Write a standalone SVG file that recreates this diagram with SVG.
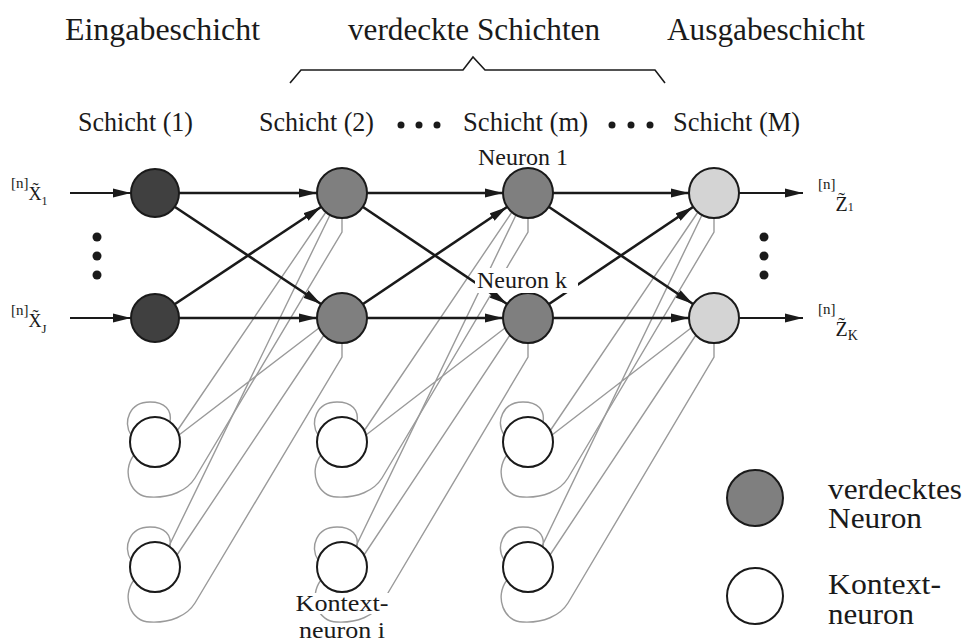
<svg xmlns="http://www.w3.org/2000/svg" width="965" height="644" viewBox="0 0 965 644">
<style>
.t{font-family:"Liberation Serif","Times New Roman",serif;fill:#1a1a1a}
.g{fill:none;stroke:#9a9a9a;stroke-width:1.4}
.b{stroke:#1a1a1a;stroke-width:2.6;fill:none}
.a{stroke:#1a1a1a;stroke-width:2;fill:none}
.n{stroke:#1a1a1a;stroke-width:2}
.in{fill:#404040}
.hid{fill:#7f7f7f}
.out{fill:#d4d4d4}
.ctx{fill:#ffffff}
.dot{fill:#1a1a1a}
</style>
<defs>
<marker id="ah" markerUnits="userSpaceOnUse" markerWidth="18" markerHeight="10" refX="18" refY="4.5" orient="auto" viewBox="0 0 18 9">
<path d="M0,0 L18,4.5 L0,9 Z" fill="#1a1a1a"/>
</marker>
</defs>
<rect width="965" height="644" fill="#ffffff"/>

<g id="titles">
<text class="t" x="65" y="40" font-size="32" textLength="195" lengthAdjust="spacingAndGlyphs">Eingabeschicht</text>
<text class="t" x="348" y="40" font-size="32" textLength="252" lengthAdjust="spacingAndGlyphs">verdeckte Schichten</text>
<text class="t" x="667" y="40" font-size="32" textLength="198" lengthAdjust="spacingAndGlyphs">Ausgabeschicht</text>
<path d="M290,83 L301,70 L463,70 L473,57 L485,70 L655,70 L665,83" fill="none" stroke="#1a1a1a" stroke-width="1.6"/>
</g>

<g id="layer-labels">
<text class="t" x="78" y="131" font-size="26.5" textLength="115" lengthAdjust="spacingAndGlyphs">Schicht (1)</text>
<text class="t" x="259" y="131" font-size="26.5" textLength="115" lengthAdjust="spacingAndGlyphs">Schicht (2)</text>
<text class="t" x="463" y="131" font-size="26.5" textLength="125" lengthAdjust="spacingAndGlyphs">Schicht (m)</text>
<text class="t" x="673" y="131" font-size="26.5" textLength="127" lengthAdjust="spacingAndGlyphs">Schicht (M)</text>
<circle class="dot" cx="401" cy="125" r="3.5"/>
<circle class="dot" cx="419" cy="125" r="3.5"/>
<circle class="dot" cx="437" cy="125" r="3.5"/>
<circle class="dot" cx="612" cy="125" r="3.5"/>
<circle class="dot" cx="631" cy="125" r="3.5"/>
<circle class="dot" cx="650" cy="125" r="3.5"/>
</g>

<g id="connectors">
<g id="context-links">
<path class="g" d="M177,431 L326,212 M179,435 L319,328 M169,546 L330,215 M177,555 L324,335"/>
<path class="g" d="M342,218 L342,232 L195,478 C187,491 170,498 150,497 C131,497 121,472 134,455"/>
<path class="g" d="M342,343 L342,357 L195,603 C187,616 170,623 150,622 C131,622 121,597 134,580"/>
<path class="g" d="M131,435 C123,422 129,402 150,402 C165,402 172,410 170,422"/>
<path class="g" d="M131,560 C123,547 129,527 150,527 C165,527 172,535 170,547"/>

<path class="g" d="M364,431 L512,212 M366,435 L505,328 M356,546 L516,215 M364,555 L510,335"/>
<path class="g" d="M528,218 L528,232 L382,478 C374,491 357,498 337,497 C318,497 308,472 321,455"/>
<path class="g" d="M528,343 L528,357 L382,603 C374,616 357,623 337,622 C318,622 308,597 321,580"/>
<path class="g" d="M318,435 C310,422 316,402 337,402 C352,402 359,410 357,422"/>
<path class="g" d="M318,560 C310,547 316,527 337,527 C352,527 359,535 357,547"/>

<path class="g" d="M550,431 L698,212 M552,435 L691,328 M542,546 L702,215 M550,555 L696,335"/>
<path class="g" d="M714,218 L714,232 L568,478 C560,491 543,498 523,497 C504,497 494,472 507,455"/>
<path class="g" d="M714,343 L714,357 L568,603 C560,616 543,623 523,622 C504,622 494,597 507,580"/>
<path class="g" d="M504,435 C496,422 502,402 523,402 C538,402 545,410 543,422"/>
<path class="g" d="M504,560 C496,547 502,527 523,527 C538,527 545,535 543,547"/>
</g>
<g id="forward-links">
<path class="a" d="M70,193 L131,193" marker-end="url(#ah)"/>
<path class="a" d="M70,318 L131,318" marker-end="url(#ah)"/>
<path class="b" d="M179,193 L317,193" marker-end="url(#ah)"/>
<path class="b" d="M179,318 L317,318" marker-end="url(#ah)"/>
<path class="b" d="M175,207 L321,304" marker-end="url(#ah)"/>
<path class="b" d="M175,304 L321,207" marker-end="url(#ah)"/>
<path class="b" d="M367,193 L503,193" marker-end="url(#ah)"/>
<path class="b" d="M367,318 L503,318" marker-end="url(#ah)"/>
<path class="b" d="M363,207 L507,304" marker-end="url(#ah)"/>
<path class="b" d="M363,304 L507,207" marker-end="url(#ah)"/>
<path class="b" d="M553,193 L689,193" marker-end="url(#ah)"/>
<path class="b" d="M553,318 L689,318" marker-end="url(#ah)"/>
<path class="b" d="M549,207 L693,304" marker-end="url(#ah)"/>
<path class="b" d="M549,304 L693,207" marker-end="url(#ah)"/>
<path class="a" d="M739,193 L803,193" marker-end="url(#ah)"/>
<path class="a" d="M739,318 L803,318" marker-end="url(#ah)"/>
</g>
</g>

<g id="input-layer">
<circle class="n in" cx="155" cy="193" r="24"/>
<circle class="n in" cx="155" cy="318" r="24"/>
</g>
<g id="hidden-layer-2">
<circle class="n hid" cx="342" cy="193" r="25"/>
<circle class="n hid" cx="342" cy="318" r="25"/>
</g>
<g id="hidden-layer-m">
<circle class="n hid" cx="528" cy="193" r="25"/>
<circle class="n hid" cx="528" cy="318" r="25"/>
</g>
<g id="output-layer">
<circle class="n out" cx="714" cy="193" r="25"/>
<circle class="n out" cx="714" cy="318" r="25"/>
</g>
<g id="context-1">
<circle class="n ctx" cx="155" cy="442" r="25"/>
<circle class="n ctx" cx="155" cy="567" r="25"/>
</g>
<g id="context-2">
<circle class="n ctx" cx="342" cy="442" r="25"/>
<circle class="n ctx" cx="342" cy="567" r="25"/>
</g>
<g id="context-m">
<circle class="n ctx" cx="528" cy="442" r="25"/>
<circle class="n ctx" cx="528" cy="567" r="25"/>
</g>

<g id="io-labels">
<text class="t" x="11" y="200" font-size="18"><tspan font-size="15" dy="-12">[n]</tspan><tspan dy="12">X&#x303;</tspan><tspan font-size="12" dy="5">1</tspan></text>
<text class="t" x="11" y="327" font-size="18"><tspan font-size="15" dy="-12">[n]</tspan><tspan dy="12">X&#x303;</tspan><tspan font-size="13" dy="6">J</tspan></text>
<circle class="dot" cx="97" cy="237" r="4.5"/>
<circle class="dot" cx="97" cy="256" r="4.5"/>
<circle class="dot" cx="97" cy="275" r="4.5"/>

<text class="t" x="818" y="211" font-size="20"><tspan font-size="15" dy="-22">[n]</tspan><tspan dy="22">Z&#x303;</tspan><tspan font-size="12" dy="0">1</tspan></text>
<text class="t" x="818" y="336" font-size="20"><tspan font-size="15" dy="-22">[n]</tspan><tspan dy="22">Z&#x303;</tspan><tspan font-size="14" dy="4">K</tspan></text>
<circle class="dot" cx="764" cy="237" r="4.5"/>
<circle class="dot" cx="764" cy="256" r="4.5"/>
<circle class="dot" cx="764" cy="275" r="4.5"/>
</g>

<g id="neuron-labels">
<text class="t" x="478" y="165" font-size="24">Neuron 1</text>
<rect x="475" y="268" width="103" height="25" fill="#ffffff"/>
<text class="t" x="477" y="288" font-size="24">Neuron k</text>
<rect x="293" y="593" width="98" height="21" fill="#ffffff"/>
<text class="t" x="342" y="611" font-size="24" textLength="93" lengthAdjust="spacingAndGlyphs" text-anchor="middle">Kontext-</text>
<rect x="297" y="623" width="90" height="21" fill="#ffffff"/>
<text class="t" x="342" y="638" font-size="24" textLength="86" lengthAdjust="spacingAndGlyphs" text-anchor="middle">neuron i</text>
</g>

<g id="legend">
<circle class="n hid" cx="755" cy="498" r="28"/>
<circle class="n ctx" cx="755" cy="596" r="28"/>
<text class="t" x="828" y="499" font-size="29" textLength="134" lengthAdjust="spacingAndGlyphs">verdecktes</text>
<text class="t" x="828" y="528" font-size="29" textLength="94" lengthAdjust="spacingAndGlyphs">Neuron</text>
<text class="t" x="828" y="594" font-size="29" textLength="113" lengthAdjust="spacingAndGlyphs">Kontext-</text>
<text class="t" x="828" y="624" font-size="29" textLength="86" lengthAdjust="spacingAndGlyphs">neuron</text>
</g>
</svg>
